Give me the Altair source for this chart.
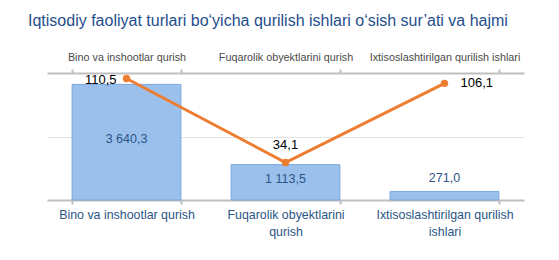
import altair as alt
import pandas as pd

categories = ["Bino va inshootlar qurish",
              "Fuqarolik  obyektlarini qurish",
              "Ixtisoslashtirilgan qurilish ishlari"]
volume = [3640.3, 1113.5, 271.0]
growth = [110.5, 34.1, 106.1]
volume_labels = ["3 640,3", "1 113,5", "271,0"]
growth_labels = ["110,5", "34,1", "106,1"]

df = pd.DataFrame({
    "cat": categories,
    "volume": volume,
    "growth": growth,
    "vlab": volume_labels,
    "glab": growth_labels,
    "idx": [0, 1, 2],
})

FONT = "Liberation Sans"
xscale = alt.Scale(domain=categories, paddingInner=0.316, paddingOuter=0.158)

bottom_expr = ("datum.label == 'Fuqarolik  obyektlarini qurish' ? ['Fuqarolik  obyektlarini', 'qurish'] : "
               "datum.label == 'Ixtisoslashtirilgan qurilish ishlari' ? ['Ixtisoslashtirilgan qurilish', 'ishlari'] : datum.label")

x_bottom = alt.X("cat:N", scale=xscale, sort=categories, title=None,
                 axis=alt.Axis(orient="bottom", labelAngle=0, labelExpr=bottom_expr,
                               labelFont=FONT, labelFontSize=12.4, labelColor="#2A5586",
                               labelLineHeight=17, labelPadding=4, tickBand="extent",
                               tickSize=4, tickColor="#BFBFBF", tickWidth=2,
                               domainColor="#BFBFBF", domainWidth=2, labelBaseline="top"))
x_top = alt.X("cat:N", scale=xscale, sort=categories, title=None,
              axis=alt.Axis(orient="top", labelAngle=0, labelFont=FONT, labelFontSize=10.8,
                            labelColor="#4A4A4A", labelPadding=7, tickBand="extent",
                            tickSize=4, tickColor="#BFBFBF", tickWidth=2,
                            domainColor="#BFBFBF", domainWidth=2))
x_plain = alt.X("cat:N", scale=xscale, sort=categories, title=None)

yscale = alt.Scale(domain=[0, 4000])
bars = alt.Chart(df).mark_bar(color="#9CC0EC", stroke="#7AA6DE", strokeWidth=1).encode(
    x=x_bottom,
    y=alt.Y("volume:Q", scale=yscale, title=None,
            axis=alt.Axis(values=[0, 500, 1000, 1500, 2000, 2500, 3000, 3500, 4000],
                          labels=False, ticks=False, domain=False, grid=True,
                          gridColor="#E3E3E3", gridWidth=1)),
)
bar_text_in = alt.Chart(df).transform_filter("datum.volume > 500").transform_calculate(
    mid="datum.volume / 2").mark_text(font=FONT, fontSize=12.5, color="#2A5586", dy=-3).encode(
    x=x_plain, y=alt.Y("mid:Q", scale=yscale), text="vlab:N")
bar_text_out = alt.Chart(df).transform_filter("datum.volume <= 500").mark_text(
    font=FONT, fontSize=12.5, color="#2A5586", dy=-13).encode(
    x=x_plain, y=alt.Y("volume:Q", scale=yscale), text="vlab:N")

gscale = alt.Scale(domain=[0, 115.5])
line = alt.Chart(df).mark_line(color="#ED7D31", strokeWidth=3).encode(
    x=x_top, y=alt.Y("growth:Q", scale=gscale, axis=None))
pts = alt.Chart(df).mark_point(filled=True, color="#ED7D31", size=55, opacity=1).encode(
    x=x_plain, y=alt.Y("growth:Q", scale=gscale, axis=None))
t0 = alt.Chart(df).transform_filter("datum.idx == 0").mark_text(
    font=FONT, fontSize=13, color="#000000", align="right", dx=-10, dy=2).encode(
    x=x_plain, y=alt.Y("growth:Q", scale=gscale, axis=None), text="glab:N")
t1 = alt.Chart(df).transform_filter("datum.idx == 1").mark_text(
    font=FONT, fontSize=13, color="#000000", dy=-18).encode(
    x=x_plain, y=alt.Y("growth:Q", scale=gscale, axis=None), text="glab:N")
t2 = alt.Chart(df).transform_filter("datum.idx == 2").mark_text(
    font=FONT, fontSize=13, color="#000000", align="left", dx=16).encode(
    x=x_plain, y=alt.Y("growth:Q", scale=gscale, axis=None), text="glab:N")

chart = alt.layer(
    alt.layer(bars, bar_text_in, bar_text_out),
    alt.layer(line, pts, t0, t1, t2),
).resolve_scale(y="independent").resolve_axis(x="independent").properties(
    width=477, height=127,
    title=alt.Title("Iqtisodiy faoliyat turlari bo‘yicha qurilish ishlari o‘sish sur’ati va hajmi",
                    anchor="start", font=FONT, fontSize=16, fontWeight="normal",
                    color="#1F4E8C", dx=-19, offset=22),
    autosize=alt.AutoSizeParams(type="none"),
    padding={"left": 47, "top": 73, "right": 35, "bottom": 60},
    background="white",
).configure_view(stroke=None)

chart.save("out.html", embed_options={"renderer": "svg", "actions": False})
